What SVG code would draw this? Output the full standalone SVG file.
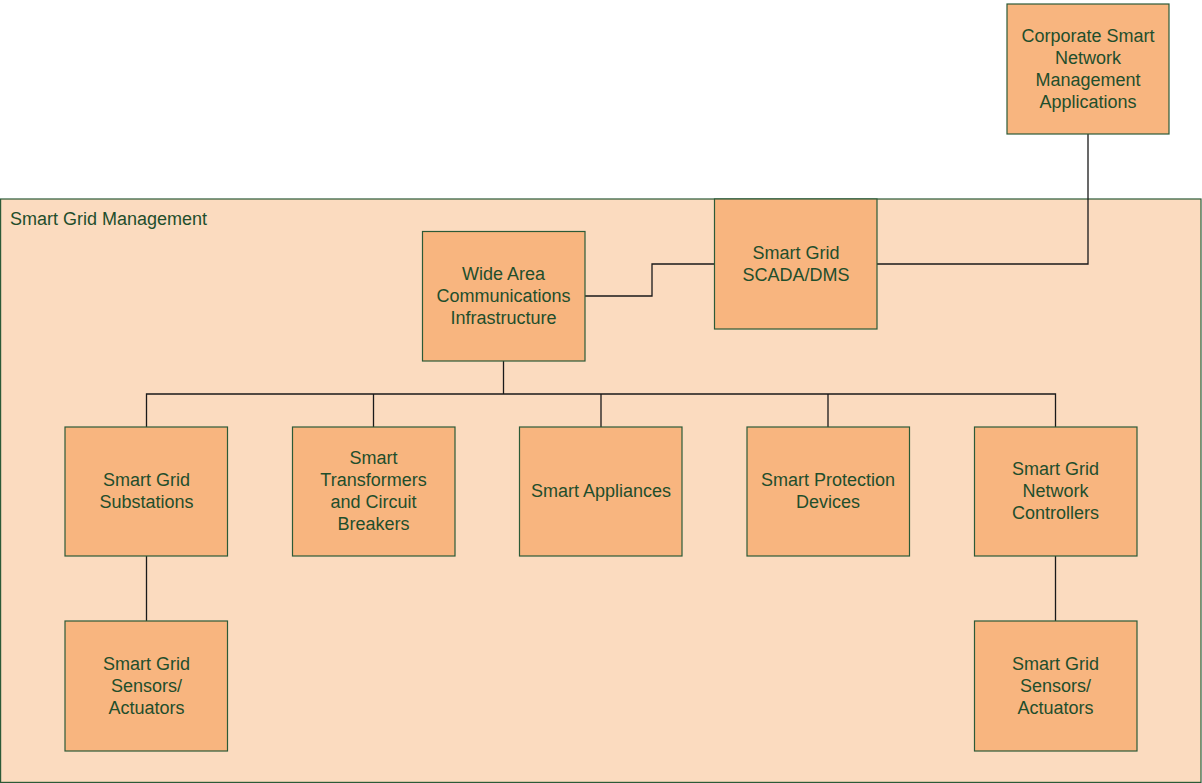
<svg xmlns="http://www.w3.org/2000/svg" width="1202" height="783" viewBox="0 0 1202 783">
  <style>
    .box { fill: #f8b57f; stroke: #2c5a37; stroke-width: 1.2; }
    .area { fill: #fbdbbf; stroke: #2c5a37; stroke-width: 1.2; }
    .lbl { font-family: "Liberation Sans", Arial, sans-serif; font-size: 18px; fill: #1f4e2c; text-anchor: middle; }
    .title { font-family: "Liberation Sans", Arial, sans-serif; font-size: 18px; fill: #1f4e2c; }
    .wire { fill: none; stroke: #1a1a1a; stroke-width: 1.3; }
  </style>
  <rect width="1202" height="783" fill="#ffffff"/>

  <!-- outer management area -->
  <g id="smart-grid-management">
    <rect class="area" x="0.6" y="199" width="1200.4" height="583.4"/>
    <text class="title" x="10" y="224.5">Smart Grid Management</text>
  </g>

  <!-- connectors -->
  <g id="connectors">
    <polyline class="wire" points="1088,134 1088,264 877,264"/>
    <polyline class="wire" points="585,296 652,296 652,264 714.5,264"/>
    <polyline class="wire" points="503.5,361 503.5,394"/>
    <polyline class="wire" points="146.5,427 146.5,394 1055.5,394 1055.5,427"/>
    <line class="wire" x1="373.5" y1="394" x2="373.5" y2="427"/>
    <line class="wire" x1="601" y1="394" x2="601" y2="427"/>
    <line class="wire" x1="828" y1="394" x2="828" y2="427"/>
    <line class="wire" x1="146.5" y1="556" x2="146.5" y2="621"/>
    <line class="wire" x1="1055.5" y1="556" x2="1055.5" y2="621"/>
  </g>

  <g id="corporate-apps">
    <rect class="box" x="1007" y="4" width="162" height="130"/>
    <text class="lbl" x="1088" y="42">Corporate Smart</text>
    <text class="lbl" x="1088" y="64">Network</text>
    <text class="lbl" x="1088" y="86">Management</text>
    <text class="lbl" x="1088" y="108">Applications</text>
  </g>

  <g id="scada-dms">
    <rect class="box" x="714.5" y="199" width="162.5" height="130"/>
    <text class="lbl" x="796" y="258.5">Smart Grid</text>
    <text class="lbl" x="796" y="280.5">SCADA/DMS</text>
  </g>

  <g id="wide-area-comms">
    <rect class="box" x="422.5" y="231.5" width="162.5" height="129.5"/>
    <text class="lbl" x="503.5" y="279.5">Wide Area</text>
    <text class="lbl" x="503.5" y="301.5">Communications</text>
    <text class="lbl" x="503.5" y="323.5">Infrastructure</text>
  </g>

  <g id="substations">
    <rect class="box" x="65" y="427" width="162.5" height="129"/>
    <text class="lbl" x="146.5" y="485.5">Smart Grid</text>
    <text class="lbl" x="146.5" y="507.5">Substations</text>
  </g>

  <g id="transformers-breakers">
    <rect class="box" x="292.5" y="427" width="162.5" height="129"/>
    <text class="lbl" x="373.5" y="463.5">Smart</text>
    <text class="lbl" x="373.5" y="485.5">Transformers</text>
    <text class="lbl" x="373.5" y="507.5">and Circuit</text>
    <text class="lbl" x="373.5" y="529.5">Breakers</text>
  </g>

  <g id="appliances">
    <rect class="box" x="519.5" y="427" width="162.5" height="129"/>
    <text class="lbl" x="601" y="496.5">Smart Appliances</text>
  </g>

  <g id="protection-devices">
    <rect class="box" x="747" y="427" width="162.5" height="129"/>
    <text class="lbl" x="828" y="485.5">Smart Protection</text>
    <text class="lbl" x="828" y="507.5">Devices</text>
  </g>

  <g id="network-controllers">
    <rect class="box" x="974.5" y="427" width="162.5" height="129"/>
    <text class="lbl" x="1055.5" y="474.5">Smart Grid</text>
    <text class="lbl" x="1055.5" y="496.5">Network</text>
    <text class="lbl" x="1055.5" y="518.5">Controllers</text>
  </g>

  <g id="sensors-left">
    <rect class="box" x="65" y="621" width="162.5" height="130"/>
    <text class="lbl" x="146.5" y="669.5">Smart Grid</text>
    <text class="lbl" x="146.5" y="691.5">Sensors/</text>
    <text class="lbl" x="146.5" y="713.5">Actuators</text>
  </g>

  <g id="sensors-right">
    <rect class="box" x="974.5" y="621" width="162.5" height="130"/>
    <text class="lbl" x="1055.5" y="669.5">Smart Grid</text>
    <text class="lbl" x="1055.5" y="691.5">Sensors/</text>
    <text class="lbl" x="1055.5" y="713.5">Actuators</text>
  </g>
</svg>
